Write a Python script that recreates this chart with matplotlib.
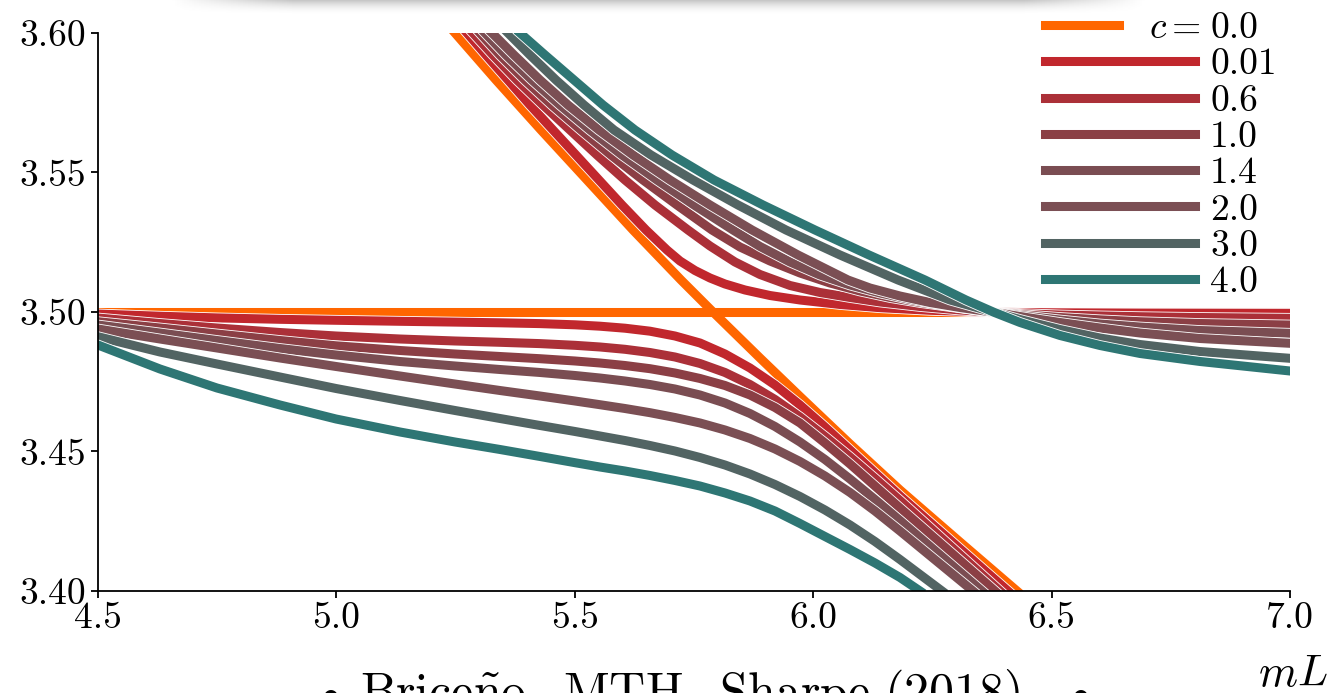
import matplotlib
matplotlib.use("Agg")
import matplotlib.pyplot as plt
import matplotlib.patheffects as pe
import numpy as np

plt.rcParams['font.family'] = 'cmr10'
plt.rcParams['mathtext.fontset'] = 'cm'
plt.rcParams['axes.formatter.use_mathtext'] = True

# coupling values shown in the legend and their colours
c_labels = ['0.0', '0.01', '0.6', '1.0', '1.4', '2.0', '3.0', '4.0']
c_colors = ['#ff6600', '#c1272d', '#ab3038', '#8b3f45', '#7a4d52', '#7b4f54', '#526463', '#2e7674']

# c = 0: free level (falling) and the flat level
free_x = [5.24874, 5.33473, 5.42911, 5.52559, 5.62206, 5.72274, 5.78985, 5.88842, 5.97232, 6.07718, 6.18205, 6.30789, 6.42743]
free_y = [3.60000, 3.58315, 3.56523, 3.54731, 3.52939, 3.51147, 3.50000, 3.48351, 3.46971, 3.45269, 3.43620, 3.41756, 3.40000]
flat_x = [4.5, 7.0]
flat_y = [3.50, 3.50]

# lower branches: common mL grid, then the mL where each one leaves at 3.40
low_x = [4.5, 4.6300, 4.7496, 4.8817, 4.9992, 5.1334, 5.2487, 5.3431, 5.4270, 5.5004, 5.5528, 5.6053,
         5.6577, 5.7101, 5.7626, 5.8150, 5.8674, 5.9199, 5.9723, 6.0247, 6.0772, 6.1296, 6.1820]
low_end_x = [6.40856, 6.39178, 6.38129, 6.35403, 6.33515, 6.27013, 6.22399]
low_c001 = [3.49928, 3.49849, 3.49789, 3.49738, 3.49703, 3.49667, 3.49638, 3.49613, 3.49584, 3.49541, 3.49491, 3.49419,
            3.49312, 3.49140, 3.48889, 3.48495, 3.47993, 3.47384, 3.46667, 3.45878, 3.45054, 3.44229, 3.43405]
low_c06 = [3.49785, 3.49588, 3.49427, 3.49265, 3.49140, 3.49032, 3.48961, 3.48914, 3.48867, 3.48806, 3.48746, 3.48663,
           3.48548, 3.48387, 3.48154, 3.47832, 3.47401, 3.46864, 3.46237, 3.45538, 3.44803, 3.44032, 3.43244]
low_c10 = [3.49652, 3.49427, 3.49212, 3.48979, 3.48789, 3.48620, 3.48495, 3.48405, 3.48326, 3.48244, 3.48172, 3.48082,
           3.47968, 3.47814, 3.47617, 3.47366, 3.47025, 3.46577, 3.46022, 3.45305, 3.44552, 3.43763, 3.42975]
low_c14 = [3.49534, 3.49247, 3.48979, 3.48692, 3.48459, 3.48226, 3.48065, 3.47939, 3.47832, 3.47724, 3.47634, 3.47527,
           3.47401, 3.47240, 3.47025, 3.46738, 3.46362, 3.45896, 3.45341, 3.44713, 3.44014, 3.43280, 3.42527]
low_c20 = [3.49391, 3.49032, 3.48710, 3.48351, 3.48047, 3.47706, 3.47419, 3.47186, 3.46989, 3.46810, 3.46677, 3.46541,
           3.46391, 3.46219, 3.46022, 3.45771, 3.45466, 3.45090, 3.44642, 3.44122, 3.43531, 3.42867, 3.42151]
low_c30 = [3.49115, 3.48566, 3.48136, 3.47670, 3.47258, 3.46828, 3.46470, 3.46183, 3.45932, 3.45717, 3.45556, 3.45394,
           3.45215, 3.45018, 3.44785, 3.44516, 3.44194, 3.43817, 3.43387, 3.42903, 3.42366, 3.41774, 3.41129]
low_c40 = [3.48817, 3.47957, 3.47276, 3.46667, 3.46165, 3.45699, 3.45341, 3.45072, 3.44821, 3.44599, 3.44444, 3.44301,
           3.44140, 3.43961, 3.43763, 3.43513, 3.43226, 3.42867, 3.42419, 3.41953, 3.41487, 3.41004, 3.40484]

# upper branches
up_x_c001 = [5.27391, 5.31376, 5.35990, 5.40604, 5.45428, 5.50252, 5.55075, 5.59899, 5.64933, 5.69337, 5.72064, 5.75210,
             5.78356, 5.81502, 5.85696, 5.90940, 5.97232, 6.05621, 6.14010, 6.24497, 6.37919, 6.51762, 6.68540, 7.0]
up_y_c001 = [3.60000, 3.59211, 3.58315, 3.57419, 3.56523, 3.55627, 3.54731, 3.53835, 3.52939, 3.52222, 3.51828, 3.51487,
             3.51219, 3.51004, 3.50789, 3.50591, 3.50430, 3.50269, 3.50154, 3.50061, 3.49989, 3.49971, 3.49961, 3.49953]
up_x_c06 = [5.28649, 5.32844, 5.37878, 5.43331, 5.48993, 5.54656, 5.60529, 5.66820, 5.73742, 5.78356, 5.83599, 5.88842,
            5.95134, 6.01426, 6.07718, 6.14010, 6.22399, 6.30789, 6.37919, 6.43372, 6.51762, 6.60151, 6.68540, 6.81124, 7.0]
up_y_c06 = [3.60000, 3.59211, 3.58315, 3.57419, 3.56523, 3.55627, 3.54731, 3.53835, 3.52939, 3.52366, 3.51792, 3.51344,
            3.50950, 3.50699, 3.50520, 3.50358, 3.50197, 3.50072, 3.49989, 3.49943, 3.49892, 3.49860, 3.49832, 3.49803, 3.49774]
up_x_c10 = [5.30117, 5.34312, 5.39555, 5.45218, 5.51300, 5.57592, 5.64304, 5.71435, 5.78775, 5.84648, 5.90940, 5.97232,
            6.03523, 6.09815, 6.16107, 6.22399, 6.28691, 6.37919, 6.43372, 6.51762, 6.60151, 6.68540, 6.81124, 7.0]
up_y_c10 = [3.60000, 3.59211, 3.58315, 3.57419, 3.56523, 3.55627, 3.54731, 3.53835, 3.52939, 3.52330, 3.51828, 3.51398,
            3.51039, 3.50753, 3.50520, 3.50340, 3.50197, 3.49989, 3.49910, 3.49803, 3.49720, 3.49652, 3.49588, 3.49534]
up_x_c14 = [5.31166, 5.35570, 5.41023, 5.46896, 5.53188, 5.59899, 5.67240, 5.75000, 5.83180, 5.88842, 5.95134, 6.01426,
            6.07718, 6.14010, 6.20302, 6.26594, 6.32886, 6.37919, 6.43372, 6.51762, 6.60151, 6.68540, 6.81124, 7.0]
up_y_c14 = [3.60000, 3.59211, 3.58315, 3.57419, 3.56523, 3.55627, 3.54731, 3.53835, 3.52939, 3.52348, 3.51792, 3.51326,
            3.50968, 3.50681, 3.50448, 3.50269, 3.50115, 3.49989, 3.49875, 3.49713, 3.49570, 3.49462, 3.49337, 3.49237]
up_x_c20 = [5.32634, 5.37248, 5.42701, 5.48574, 5.55075, 5.62206, 5.69966, 5.78356, 5.87164, 5.96812, 6.07299, 6.11913,
            6.18205, 6.24497, 6.30789, 6.37919, 6.43372, 6.51762, 6.60151, 6.68540, 6.81124, 7.0]
up_y_c20 = [3.60000, 3.59211, 3.58315, 3.57419, 3.56523, 3.55627, 3.54731, 3.53835, 3.52939, 3.52043, 3.51147, 3.50860,
            3.50573, 3.50340, 3.50161, 3.49989, 3.49839, 3.49624, 3.49427, 3.49247, 3.49050, 3.48878]
up_x_c30 = [5.35990, 5.40604, 5.46057, 5.51930, 5.58221, 5.65982, 5.74790, 5.84228, 5.94295, 6.05621, 6.17785, 6.28691,
            6.37919, 6.43372, 6.51762, 6.60151, 6.68540, 6.81124, 7.0]
up_y_c30 = [3.60000, 3.59211, 3.58315, 3.57419, 3.56523, 3.55627, 3.54731, 3.53835, 3.52939, 3.52043, 3.51147, 3.50430,
            3.49989, 3.49731, 3.49373, 3.49068, 3.48835, 3.48584, 3.48340]
up_x_c40 = [5.38507, 5.43750, 5.49832, 5.55914, 5.62626, 5.70386, 5.79195, 5.89472, 6.00378, 6.11703, 6.23448, 6.32047,
            6.37919, 6.43372, 6.51762, 6.60151, 6.68540, 6.81124, 7.0]
up_y_c40 = [3.60000, 3.59211, 3.58315, 3.57419, 3.56523, 3.55627, 3.54731, 3.53835, 3.52939, 3.52043, 3.51147, 3.50430,
            3.49989, 3.49624, 3.49158, 3.48799, 3.48513, 3.48226, 3.47885]

lower = [low_c001, low_c06, low_c10, low_c14, low_c20, low_c30, low_c40]
upper = [(up_x_c001, up_y_c001), (up_x_c06, up_y_c06), (up_x_c10, up_y_c10),
         (up_x_c14, up_y_c14), (up_x_c20, up_y_c20), (up_x_c30, up_y_c30),
         (up_x_c40, up_y_c40)]

fig = plt.figure(figsize=(13.35, 6.93), dpi=100)
ax = fig.add_axes([0.07341, 0.14719, 0.89288, 0.80519])

lw = 6.5
outline = [pe.Stroke(linewidth=lw + 1.2, foreground='white'), pe.Normal()]
style = dict(lw=lw, solid_capstyle='projecting', solid_joinstyle='round')

handles = []
h, = ax.plot(flat_x, flat_y, color=c_colors[0], **style)
ax.plot(free_x, free_y, color=c_colors[0], **style)
handles.append(h)

for i in range(7):
    col = c_colors[i + 1]
    lx = low_x + [low_end_x[i]]
    ly = lower[i] + [3.40]
    h, = ax.plot(lx, ly, color=col, path_effects=outline, **style)
    ux, uy = upper[i]
    ax.plot(ux, uy, color=col, path_effects=outline, **style)
    handles.append(h)

ax.set_xlim(4.5, 7.0)
ax.set_ylim(3.40, 3.60)
ax.set_xticks([4.5, 5.0, 5.5, 6.0, 6.5, 7.0])
ax.set_yticks([3.40, 3.45, 3.50, 3.55, 3.60])
ax.set_xticklabels(['%.1f' % v for v in ax.get_xticks()])
ax.set_yticklabels(['%.2f' % v for v in ax.get_yticks()])
ax.spines['top'].set_visible(False)
ax.spines['right'].set_visible(False)
for s in ['left', 'bottom']:
    ax.spines[s].set_linewidth(1.3)
ax.tick_params(axis='both', direction='out', length=5, width=1.3, labelsize=27)
ax.tick_params(axis='x', pad=3)
ax.tick_params(axis='y', pad=4)

leg = ax.legend(handles, c_labels, loc='upper left', bbox_to_anchor=(1045 / 1335, 1 - 12 / 693),
                bbox_transform=fig.transFigure, frameon=False, fontsize=27,
                handlelength=4.0, handletextpad=0.4, labelspacing=0.08,
                borderpad=0, borderaxespad=0)
# first entry has a shorter handle, with "c =" in front of its label
first = leg.legend_handles[0]
xd = np.asarray(first.get_xdata(), dtype=float)
x0 = xd.min()
first.set_xdata(x0 + (xd - x0) * 0.49)
fig.text(1201 / 1335, 1 - 38 / 693, r'$c =$', ha='right', va='baseline', fontsize=27)

fig.text(1293 / 1335, 1 - 686 / 693, r'$mL$', ha='center', va='baseline', fontsize=32)
fig.text(0.517, 1 - 708 / 693, r'$\mathrm{Brice\tilde{n}o,\ MTH,\ Sharpe\ (2018)}$',
         ha='center', va='baseline', fontsize=36)
for bx in [330, 1080]:
    fig.text(bx / 1335, 1 - 704 / 693, r'$\bullet$', ha='center', va='baseline', fontsize=26)

# soft shadow of the slide box above the plot
sh = fig.add_axes([171 / 1335, 1 - 16 / 693, (1145 - 171) / 1335, 16 / 693], zorder=-1)
rows = np.linspace(0.0, 1.0, 16)[:, None]
cols = np.minimum(1.0, np.minimum(np.linspace(0, 1, 400), np.linspace(1, 0, 400)) * 8)[None, :]
shade = 1.0 - 0.22 * (1 - rows) ** 2 * cols
sh.imshow(shade, cmap='gray', vmin=0, vmax=1, aspect='auto', interpolation='bilinear')
sh.axis('off')

fig.savefig('out.png', dpi=100)
